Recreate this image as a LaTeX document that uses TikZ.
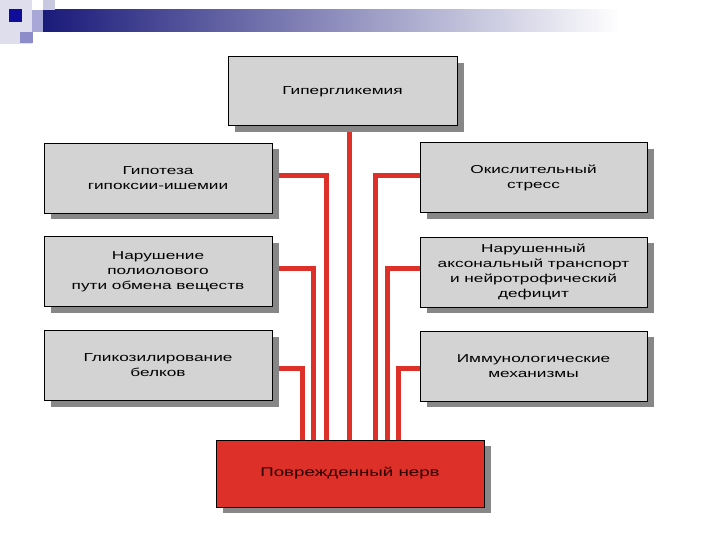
\documentclass[tikz,border=0pt]{standalone}
\usepackage{fontspec}
\setmainfont{Liberation Sans}
\newfontfamily\boxfont[FakeStretch=1.5]{Liberation Sans}
\usetikzlibrary{shadows}
\pgfdeclarelayer{bg}
\pgfsetlayers{bg,main}
\definecolor{boxgray}{RGB}{211,211,211}
\definecolor{shadowgray}{RGB}{135,135,135}
\definecolor{nervered}{RGB}{221,48,40}
\definecolor{navy}{RGB}{26,26,122}
\definecolor{textdark}{RGB}{45,0,0}
\tikzset{
  cause/.style={draw=black, line width=1pt, fill=boxgray, inner sep=0pt,
    align=center, font=\boxfont\fontsize{11.5}{15}\selectfont,
    general shadow={fill=shadowgray, draw=none, shadow xshift=7pt, shadow yshift=-6pt}},
  sidebox/.style={cause, minimum width=228pt, minimum height=70pt},
  conn/.style={draw=nervered, line width=5pt, line join=miter}
}
\begin{document}
\begin{tikzpicture}[x=1pt,y=-1pt]
\useasboundingbox (0,0) rectangle (720,540);
% header decoration
\fill[fill={rgb,255:red,222;green,222;blue,236}] (0,0) rectangle (32,44);
\shade[left color=navy, right color=white] (43,10) rectangle (620,32);
\fill[fill={rgb,255:red,168;green,168;blue,216}] (32,10) rectangle (43,32);
\fill[fill={rgb,255:red,200;green,200;blue,224}] (43,0) rectangle (55,10);
\fill[fill={rgb,255:red,14;green,14;blue,154}] (9,9) rectangle (22,22);
\fill[fill={rgb,255:red,140;green,140;blue,200}] (20,32) rectangle (33,43);

% nodes
\node[cause, minimum width=229pt, minimum height=69pt] (top) at (342.5,91.5) {Гипергликемия};
\node[sidebox] (l1) at (158,178.5) {Гипотеза\\гипоксии-ишемии};
\node[sidebox] (l2) at (158,271.5) {Нарушение\\полиолового\\пути обмена веществ};
\node[sidebox] (l3) at (158,365.5) {Гликозилирование\\белков};
\node[sidebox, minimum width=227pt] (r1) at (533.5,178) {Окислительный\\стресс};
\node[sidebox, minimum width=227pt] (r2) at (533.5,272) {Нарушенный\\аксональный транспорт\\и нейротрофический\\дефицит};
\node[sidebox, minimum width=227pt] (r3) at (533.5,366) {Иммунологические\\механизмы};
\node[cause, fill=nervered, minimum width=268pt, minimum height=67pt, text=textdark,
      font=\boxfont\fontsize{12.5}{15}\selectfont] (bot) at (350,473.5) {Поврежденный нерв};

% connectors
\begin{pgfonlayer}{bg}
\draw[conn] ([xshift=6.5pt]top.south) -- ([xshift=-1pt]bot.north);
\draw[conn] ([yshift=2.5pt]l1.east) -| ([xshift=-24pt]bot.north);
\draw[conn] ([yshift=3.5pt]l2.east) -| ([xshift=-37pt]bot.north);
\draw[conn] ([yshift=-2.5pt]l3.east) -| ([xshift=-48pt]bot.north);
\draw[conn] ([yshift=2pt]r1.west) -| ([xshift=25pt]bot.north);
\draw[conn] ([yshift=4pt]r2.west) -| ([xshift=37pt]bot.north);
\draw[conn] ([yshift=-2pt]r3.west) -| ([xshift=48pt]bot.north);
\end{pgfonlayer}
\end{tikzpicture}
\end{document}
